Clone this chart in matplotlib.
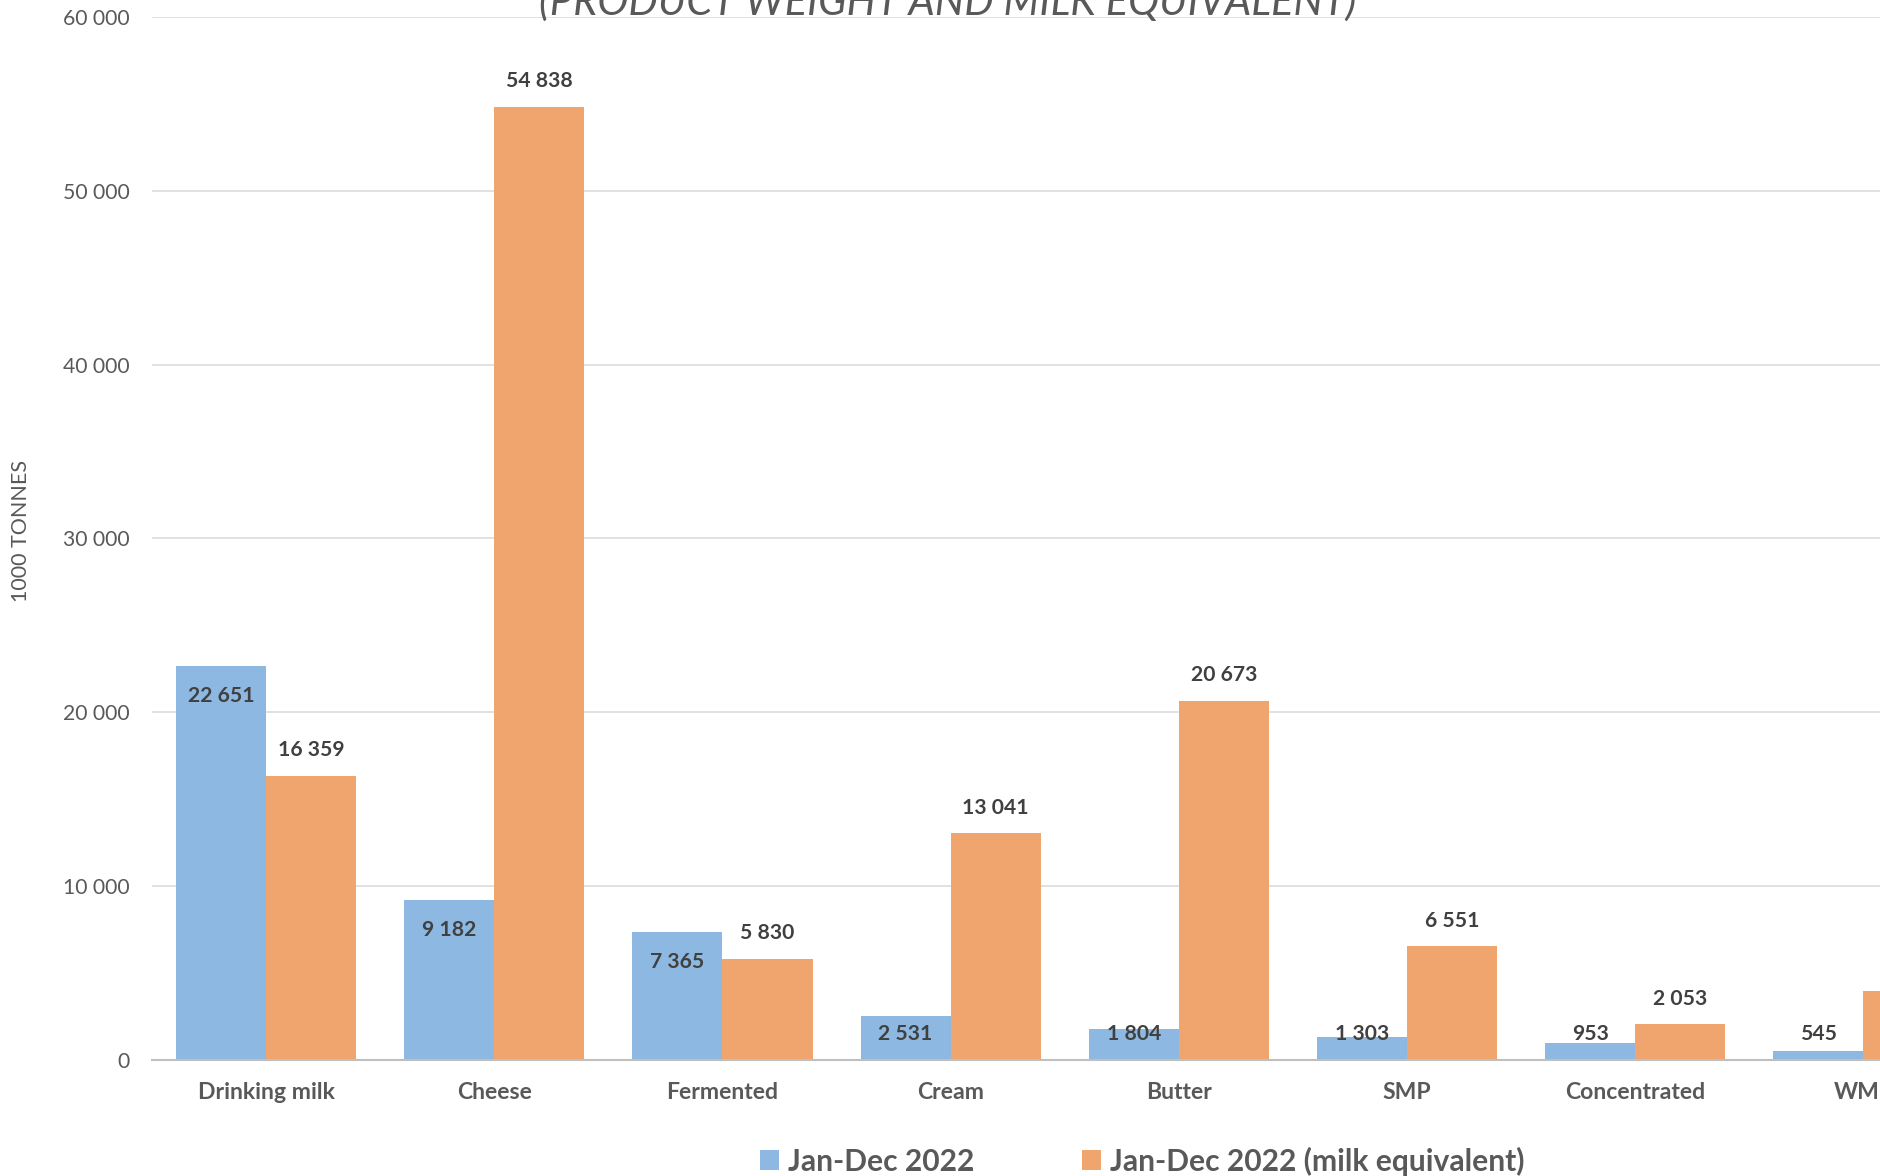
import matplotlib
matplotlib.use("Agg")
import matplotlib.pyplot as plt
from matplotlib.ticker import FuncFormatter
from matplotlib.patches import Patch

categories = ["Drinking milk", "Cheese", "Fermented", "Cream", "Butter", "SMP", "Concentrated", "WMP"]
product_weight = [22651, 9182, 7365, 2531, 1804, 1303, 953, 545]
milk_equivalent = [16359, 54838, 5830, 13041, 20673, 6551, 2053, 3980]
series_names = ["Jan-Dec 2022", "Jan-Dec 2022 (milk equivalent)"]
y_ticks = [0, 10000, 20000, 30000, 40000, 50000, 60000]
title_text = "(PRODUCT WEIGHT AND MILK EQUIVALENT)"
y_label = "1000 TONNES"

BLUE = "#8DB8E1"
ORANGE = "#F0A56E"
GREY = "#595959"
DARK = "#404040"

plt.rcParams["font.family"] = ["Lato", "DejaVu Sans"]

W, H = 1880, 1176
fig = plt.figure(figsize=(W / 100, H / 100), dpi=100)
ax = fig.add_axes([152 / W, 116 / H, (W - 152) / W, (1060 - 16.8) / H])

x = list(range(len(categories)))
bw = 0.395
xb = [i - bw / 2 for i in x]
xo = [i + bw / 2 for i in x]
ax.bar(xb, product_weight, width=bw, color=BLUE, zorder=2)
ax.bar(xo, milk_equivalent, width=bw, color=ORANGE, zorder=2)

ax.set_xlim(-0.5, -0.5 + (W - 152) / 228.2)
ax.set_ylim(0, 60000)

def fmt(v):
    return f"{int(v):,}".replace(",", " ")

for xi, v in zip(xb, product_weight):
    ax.text(xi, max(v - 1700, 1470), fmt(v), ha="center", va="center",
            fontsize=15.2, fontweight="bold", color=DARK, zorder=3)
for xi, v in zip(xo, milk_equivalent):
    ax.text(xi, v + 1470, fmt(v), ha="center", va="center",
            fontsize=15.2, fontweight="bold", color=DARK, zorder=3)

ax.set_yticks(y_ticks)
ax.yaxis.set_major_formatter(FuncFormatter(lambda v, p: fmt(v)))
ax.set_xticks(x)
ax.set_xticklabels(categories, fontsize=16.6, fontweight="bold", color=GREY)
ax.tick_params(axis="y", length=0, pad=16, labelsize=15.2, labelcolor=GREY)
ax.tick_params(axis="x", length=0, pad=16)

ax.grid(axis="y", color="#D9D9D9", linewidth=1.1, zorder=0)
ax.set_axisbelow(True)
for s in ["top", "right", "left"]:
    ax.spines[s].set_visible(False)
ax.spines["bottom"].set_color("#BFBFBF")
ax.spines["bottom"].set_linewidth(1.5)
ax.spines["bottom"].set_zorder(4)

fig.text(948 / W, 1 - 15 / H, title_text, ha="center", va="baseline",
         fontsize=30, style="italic", color=GREY)
fig.text(21 / W, 1 - 531 / H, y_label, rotation=90, ha="center", va="center",
         fontsize=15.5, color=GREY)

handles = [Patch(facecolor=BLUE, edgecolor="none"), Patch(facecolor=ORANGE, edgecolor="none")]
leg = fig.legend(handles, series_names, loc="center", bbox_to_anchor=(1142 / W, 1 - 1161 / H),
                 ncol=2, frameon=False, handlelength=0.62, handleheight=0.62,
                 handletextpad=0.3, columnspacing=3.6,
                 prop={"size": 21.6, "weight": "bold"})
for t in leg.get_texts():
    t.set_color(GREY)

fig.savefig("out.png", dpi=100)
